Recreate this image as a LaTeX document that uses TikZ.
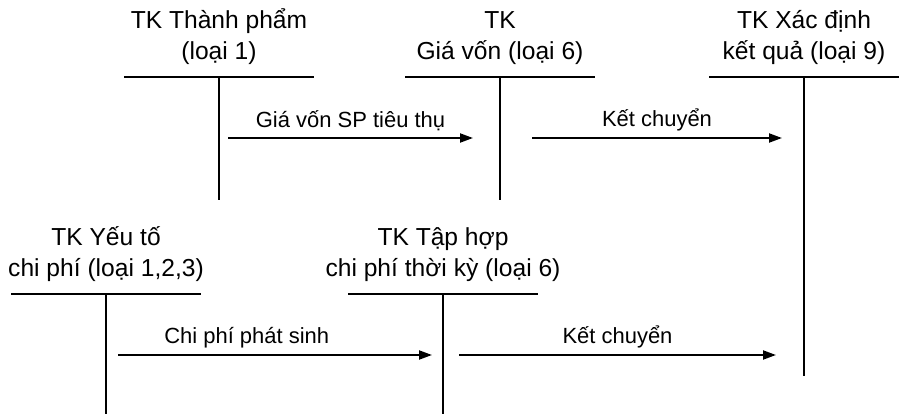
\documentclass[tikz,border=0pt]{standalone}
\usepackage{fontspec}
\setmainfont{Liberation Sans}
\usepackage{tikz}
\usetikzlibrary{arrows.meta,positioning}

\begin{document}
\begin{tikzpicture}[>={Triangle[length=2.6mm,width=1.8mm]},
  acc/.style={font=\fontsize{14}{17.6}\selectfont,align=center,inner sep=0pt},
  lbl/.style={font=\fontsize{12.5}{15}\selectfont},
  tline/.style={line width=1.1pt}]
\useasboundingbox (0,0) rectangle (18.04,-8.28);
% junctions of the T-accounts
\coordinate (tp) at (4.38,-1.54);
\coordinate (gv) at (10.0,-1.54);
\coordinate (kq) at (16.08,-1.54);
\coordinate (yt) at (2.12,-5.88);
\coordinate (th) at (8.86,-5.88);
\node[acc,above=2.4mm of tp] (tpname) {TK Thành phẩm\\(loại 1)};
\node[acc,above=2.4mm of gv] (gvname) {TK\\Giá vốn (loại 6)};
\node[acc,above=2.4mm of kq] (kqname) {TK Xác định\\kết quả (loại 9)};
\node[acc,above=2.4mm of yt] (ytname) {TK Yếu tố\\chi phí (loại 1,2,3)};
\node[acc,above=2.4mm of th] (thname) {TK Tập hợp\\chi phí thời kỳ (loại 6)};
\draw[tline] ([xshift=-1.9cm]tp) -- ([xshift=1.9cm]tp) (tp) -- ++(0,-2.46);
\draw[tline] ([xshift=-1.9cm]gv) -- ([xshift=1.9cm]gv) (gv) -- ++(0,-2.46);
\draw[tline] ([xshift=-1.9cm]kq) -- ([xshift=1.9cm]kq) (kq) -- ++(0,-5.98);
\draw[tline] ([xshift=-1.9cm]yt) -- ([xshift=1.9cm]yt) (yt) -- ++(0,-2.4);
\draw[tline] ([xshift=-1.9cm]th) -- ([xshift=1.9cm]th) (th) -- ++(0,-2.4);
% flows between accounts
\coordinate (a1) at (4.56,-2.76);  \coordinate (b1) at (9.46,-2.76);
\coordinate (a2) at (10.64,-2.76); \coordinate (b2) at (15.64,-2.76);
\coordinate (a3) at (2.36,-7.10);  \coordinate (b3) at (8.64,-7.10);
\coordinate (a4) at (9.18,-7.10);  \coordinate (b4) at (15.52,-7.10);
\draw[->,tline] (a1) -- (b1) node[lbl,midway,above] (f1) {Giá vốn SP tiêu thụ};
\draw[->,tline] (a2) -- (b2) node[lbl,midway,above] (f2) {Kết chuyển};
\draw[->,tline] (a3) -- (b3) node[lbl,pos=0.41,above] (f3) {Chi phí phát sinh};
\draw[->,tline] (a4) -- (b4) node[lbl,midway,above] (f4) {Kết chuyển};
\end{tikzpicture}
\end{document}
